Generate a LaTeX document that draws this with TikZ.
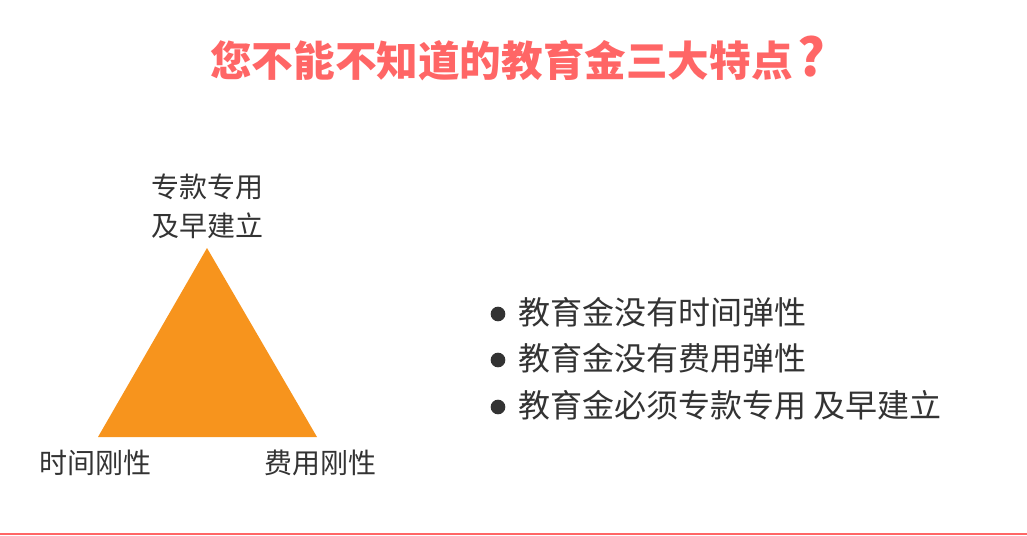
\documentclass[tikz,border=0pt]{standalone}
\usepackage{fontspec}
\newfontfamily\cjk{Noto Sans CJK SC}
\newfontfamily\cjkheavy{Noto Sans CJK SC Black}
\usepackage{tikz}
\usetikzlibrary{calc}
\definecolor{titlered}{RGB}{255,102,102}
\definecolor{triorange}{RGB}{247,148,29}
\definecolor{textgray}{RGB}{51,51,51}
\tikzset{
  label/.style={text=textgray,inner sep=0pt,font=\cjk\fontsize{21}{29.25}\selectfont},
  item/.style={text=textgray,inner sep=0pt,anchor=west,font=\cjk\fontsize{24}{28}\selectfont},
  dot/.style={circle,fill=textgray,inner sep=0pt,minimum size=11pt}
}

\begin{document}
\begin{tikzpicture}[x=0.75pt,y=0.75pt,yscale=-1,xscale=1]
\useasboundingbox (0,0) rectangle (1027,535);

% Title Node
\node (title) [text=titlered,inner sep=0pt,anchor=west,font=\cjkheavy\fontsize{31.2}{36}\selectfont] at (210,58) {您不能不知道的教育金三大特点\kern3.5pt{\fontsize{39}{39}\selectfont ?}};

%Shape: Triangle
\coordinate (apex) at (207,248);
\coordinate (left) at (98,437);
\coordinate (right) at (317,437);
\fill [triorange] (apex) -- (left) -- (right) -- cycle;

% Text Node
\node (top) [label,align=center] at (207,206) {专款专用\\及早建立};
% Text Node
\node (time) [label] at (95,463) {时间刚性};
% Text Node
\node (cost) [label] at (320,463) {费用刚性};

% Bullet list
\node (d1) [dot] at (498,314) {};
\node (b1) [item] at (518,312) {教育金没有时间弹性};
\node (d2) [dot] at (498,360) {};
\node (b2) [item] at (518,358) {教育金没有费用弹性};
\node (d3) [dot] at (498,407) {};
\node (b3) [item] at (518,405) {教育金必须专款专用 及早建立};

%Straight Lines
\draw [titlered,line width=1.5pt] (0,533.5) -- (1027,533.5);

\end{tikzpicture}
\end{document}
